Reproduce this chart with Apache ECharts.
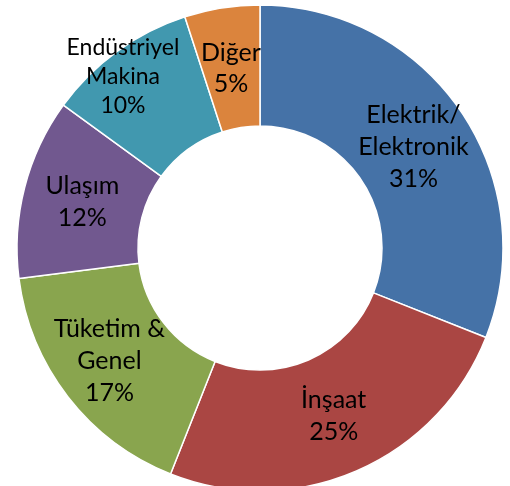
<!DOCTYPE html>
<html>
<head>
<meta charset="utf-8">
<script src="https://cdn.jsdelivr.net/npm/echarts@6/dist/echarts.min.js"></script>
<style>
html,body{margin:0;padding:0;background:#fff;}
#c{width:510px;height:486px;}
</style>
</head>
<body>
<div id="c"></div>
<script>
var categories = ['Elektrik/\nElektronik', 'İnşaat', 'Tüketim &\nGenel', 'Ulaşım', 'Endüstriyel\nMakina', 'Diğer'];
var values = [31, 25, 17, 12, 10, 5];
var colors = ['#4572A7', '#AA4643', '#89A54E', '#71588F', '#4198AF', '#DB843D'];
var labelSizes = [25, 25, 25, 25, 23, 25];
var labelLineHeights = [32, 32, 32, 32, 29, 31];
// label nudges (Excel pushes the small top labels outward)
var labelDx = [0, 0, -4, 2, -28, 0];
var labelDy = [3, -2, -1, 0, -21, 4];

var chart = echarts.init(document.getElementById('c'));
var data = categories.map(function (n, i) {
  return {
    name: n,
    value: values[i],
    itemStyle: { color: colors[i] },
    label: { fontSize: labelSizes[i], lineHeight: labelLineHeights[i] }
  };
});
chart.setOption({
  animation: false,
  series: [{
    type: 'pie',
    center: [260, 248],
    radius: [122, 243],
    startAngle: 90,
    clockwise: true,
    avoidLabelOverlap: false,
    labelLayout: function (p) {
      return { hideOverlap: false, dx: labelDx[p.dataIndex], dy: labelDy[p.dataIndex] };
    },
    itemStyle: { borderColor: '#fff', borderWidth: 1.5 },
    label: {
      show: true,
      position: 'inside',
      formatter: '{b}\n{c}%',
      color: '#000',
      fontFamily: 'Lato',
      fontSize: 25,
      lineHeight: 32,
      align: 'center'
    },
    labelLine: { show: false },
    emphasis: { disabled: true },
    data: data
  }]
});
</script>
</body>
</html>
